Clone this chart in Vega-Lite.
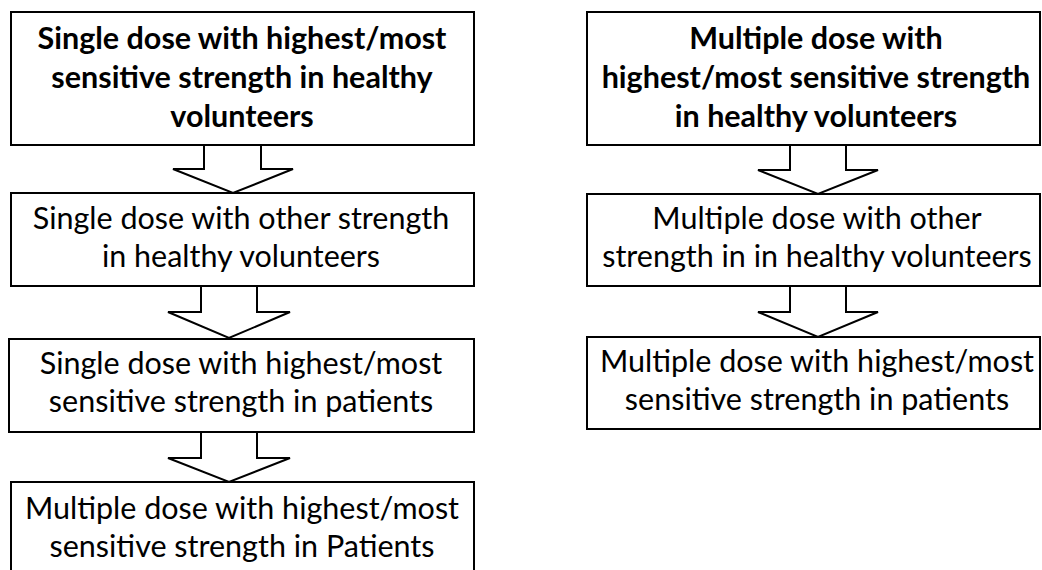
{
  "$schema": "https://vega.github.io/schema/vega-lite/v6.json",
  "width": 1042,
  "height": 570,
  "padding": 0,
  "autosize": {"type": "none"},
  "background": "white",
  "config": {"view": {"stroke": null}},
  "datasets": {
    "boxes": [
      {"id": "L1", "x1": 11, "x2": 474, "y1": 12, "y2": 145, "tx": 242, "ty": 40, "bold": true, "label": "Single dose with highest/most\nsensitive strength in healthy\nvolunteers"},
      {"id": "L2", "x1": 11, "x2": 474, "y1": 193, "y2": 286, "tx": 241, "ty": 220, "bold": false, "label": "Single dose with other strength\nin healthy volunteers"},
      {"id": "L3", "x1": 9, "x2": 474, "y1": 339, "y2": 432, "tx": 241, "ty": 365, "bold": false, "label": "Single dose with highest/most\nsensitive strength in patients"},
      {"id": "L4", "x1": 11, "x2": 474, "y1": 482, "y2": 578, "tx": 242, "ty": 510, "bold": false, "label": "Multiple dose with highest/most\nsensitive strength in Patients"},
      {"id": "R1", "x1": 587, "x2": 1040, "y1": 12, "y2": 145, "tx": 816, "ty": 40, "bold": true, "label": "Multiple dose with\nhighest/most sensitive strength\nin healthy volunteers"},
      {"id": "R2", "x1": 587, "x2": 1040, "y1": 194, "y2": 286, "tx": 817, "ty": 220, "bold": false, "label": "Multiple dose with other\nstrength in in healthy volunteers"},
      {"id": "R3", "x1": 587, "x2": 1040, "y1": 337, "y2": 429, "tx": 817, "ty": 363, "bold": false, "label": "Multiple dose with highest/most\nsensitive strength in patients"}
    ],
    "arrows": [
      {"arrow": "L1", "seq": 1, "x": 204, "y": 145},
      {"arrow": "L1", "seq": 2, "x": 204, "y": 169},
      {"arrow": "L1", "seq": 3, "x": 173, "y": 169},
      {"arrow": "L1", "seq": 4, "x": 233, "y": 193},
      {"arrow": "L1", "seq": 5, "x": 293, "y": 169},
      {"arrow": "L1", "seq": 6, "x": 261, "y": 169},
      {"arrow": "L1", "seq": 7, "x": 261, "y": 145},
      {"arrow": "L2", "seq": 1, "x": 201, "y": 286},
      {"arrow": "L2", "seq": 2, "x": 201, "y": 312},
      {"arrow": "L2", "seq": 3, "x": 168, "y": 312},
      {"arrow": "L2", "seq": 4, "x": 229, "y": 338},
      {"arrow": "L2", "seq": 5, "x": 290, "y": 312},
      {"arrow": "L2", "seq": 6, "x": 257, "y": 312},
      {"arrow": "L2", "seq": 7, "x": 257, "y": 286},
      {"arrow": "L3", "seq": 1, "x": 201, "y": 432},
      {"arrow": "L3", "seq": 2, "x": 201, "y": 458},
      {"arrow": "L3", "seq": 3, "x": 168, "y": 458},
      {"arrow": "L3", "seq": 4, "x": 229, "y": 482},
      {"arrow": "L3", "seq": 5, "x": 290, "y": 458},
      {"arrow": "L3", "seq": 6, "x": 257, "y": 458},
      {"arrow": "L3", "seq": 7, "x": 257, "y": 432},
      {"arrow": "R1", "seq": 1, "x": 790, "y": 145},
      {"arrow": "R1", "seq": 2, "x": 790, "y": 170},
      {"arrow": "R1", "seq": 3, "x": 758, "y": 170},
      {"arrow": "R1", "seq": 4, "x": 818, "y": 194},
      {"arrow": "R1", "seq": 5, "x": 878, "y": 170},
      {"arrow": "R1", "seq": 6, "x": 846, "y": 170},
      {"arrow": "R1", "seq": 7, "x": 846, "y": 145},
      {"arrow": "R2", "seq": 1, "x": 790, "y": 286},
      {"arrow": "R2", "seq": 2, "x": 790, "y": 312},
      {"arrow": "R2", "seq": 3, "x": 758, "y": 312},
      {"arrow": "R2", "seq": 4, "x": 818, "y": 337},
      {"arrow": "R2", "seq": 5, "x": 878, "y": 312},
      {"arrow": "R2", "seq": 6, "x": 846, "y": 312},
      {"arrow": "R2", "seq": 7, "x": 846, "y": 286}
    ]
  },
  "layer": [
    {
      "data": {"name": "arrows"},
      "mark": {"type": "line", "color": "black", "strokeWidth": 2, "strokeJoin": "miter", "clip": true},
      "encoding": {
        "x": {"field": "x", "type": "quantitative", "scale": {"domain": [0, 1042], "nice": false, "zero": false}, "axis": null},
        "y": {"field": "y", "type": "quantitative", "scale": {"domain": [0, 570], "nice": false, "zero": false, "reverse": true}, "axis": null},
        "detail": {"field": "arrow"},
        "order": {"field": "seq", "type": "quantitative"}
      }
    },
    {
      "data": {"name": "boxes"},
      "mark": {"type": "rect", "fill": null, "stroke": "black", "strokeWidth": 2, "clip": true},
      "encoding": {
        "x": {"field": "x1", "type": "quantitative"},
        "x2": {"field": "x2"},
        "y": {"field": "y1", "type": "quantitative"},
        "y2": {"field": "y2"}
      }
    },
    {
      "data": {"name": "boxes"},
      "transform": [{"filter": "datum.bold"}],
      "mark": {"type": "text", "font": "Lato", "fontSize": 30.5, "fontWeight": "bold", "lineBreak": "\n", "lineHeight": 39, "align": "center", "baseline": "middle", "color": "black"},
      "encoding": {
        "x": {"field": "tx", "type": "quantitative"},
        "y": {"field": "ty", "type": "quantitative"},
        "text": {"field": "label"}
      }
    },
    {
      "data": {"name": "boxes"},
      "transform": [{"filter": "!datum.bold"}],
      "mark": {"type": "text", "font": "Lato", "fontSize": 30.5, "lineBreak": "\n", "lineHeight": 38, "align": "center", "baseline": "middle", "color": "black"},
      "encoding": {
        "x": {"field": "tx", "type": "quantitative"},
        "y": {"field": "ty", "type": "quantitative"},
        "text": {"field": "label"}
      }
    }
  ]
}
